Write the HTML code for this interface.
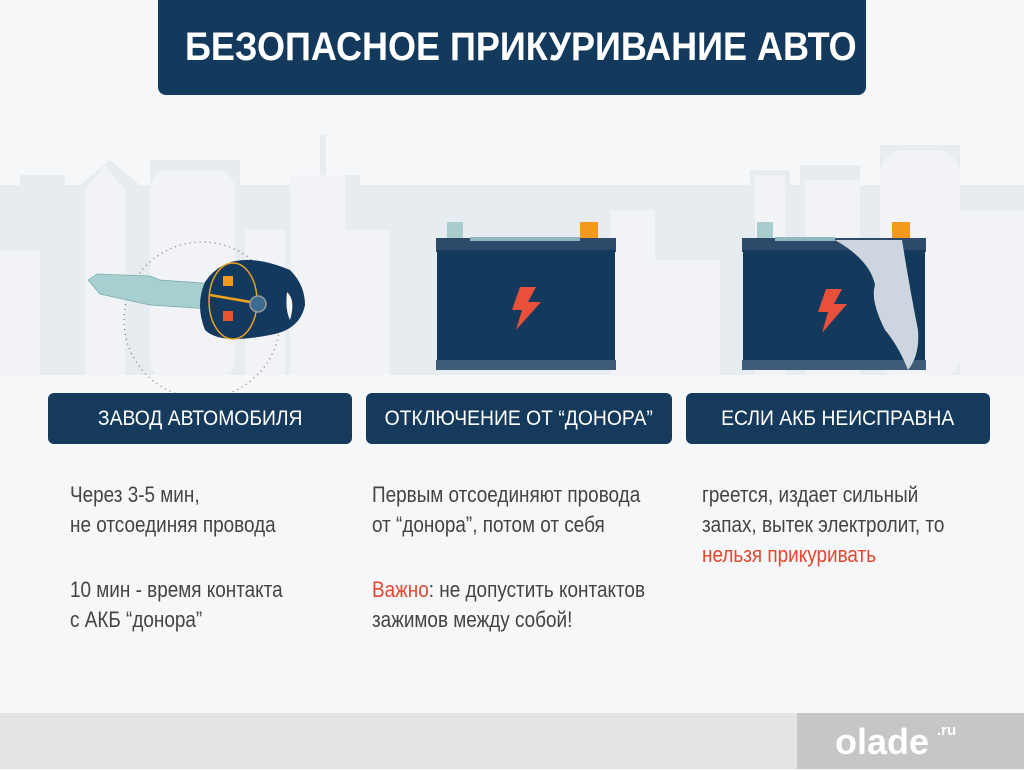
<!DOCTYPE html>
<html><head><meta charset="utf-8">
<style>
body{margin:0;width:1024px;height:769px;overflow:hidden;background:#f6f7f9;position:relative;font-family:"Liberation Sans",sans-serif}
.a{position:absolute}
.n{display:inline-block;transform:scaleX(.86);transform-origin:left top;white-space:nowrap}
.lab{position:absolute;top:393px;height:51px;background:#163a5c;border-radius:6px;color:#fff;font-size:21px;line-height:51px;text-align:center}
.lab span{display:inline-block;transform:scaleX(.92);white-space:nowrap}
.t{position:absolute;color:#444;font-size:22px;line-height:30px}
.red{color:#e5462f}
</style></head><body>
<svg class="a" style="left:0;top:0" width="1024" height="713">
<g fill="#e7ecf1">
<rect x="0" y="185" width="1024" height="195"/>
<rect x="20" y="175" width="45" height="200"/><polygon points="80,185 110,160 140,185"/>
<rect x="150" y="160" width="90" height="220"/><rect x="300" y="175" width="60" height="200"/><rect x="320" y="135" width="6" height="50"/>
<rect x="600" y="185" width="60" height="190"/>
<rect x="750" y="170" width="40" height="200"/><rect x="800" y="165" width="60" height="200"/><rect x="880" y="145" width="80" height="230"/>
</g>
<g fill="#f1f3f6">
<rect x="0" y="250" width="40" height="130"/><polygon points="85,380 85,190 105,165 125,190 125,380"/>
<rect x="150" y="170" width="85" height="210" rx="20"/><rect x="245" y="230" width="40" height="150"/>
<rect x="290" y="175" width="55" height="205"/><rect x="345" y="230" width="45" height="150"/>
<rect x="610" y="210" width="45" height="170"/><rect x="640" y="260" width="80" height="120"/>
<rect x="755" y="175" width="30" height="205"/><rect x="805" y="180" width="55" height="200"/>
<rect x="880" y="150" width="80" height="230" rx="25"/><rect x="960" y="210" width="64" height="170"/>
</g>
<rect x="0" y="375" width="1024" height="340" fill="#f6f7f9"/>
<circle cx="202" cy="320" r="78" fill="none" stroke="#777" stroke-width="1.3" stroke-dasharray="1 4"/>
<polygon points="88,280 97,274 150,276 160,280 230,285 225,310 150,305 118,298 100,294" fill="#a8cfcf" stroke="#7aa" stroke-width=".7"/>
<path d="M205,282 Q230,245 290,270 Q305,285 305,305 Q300,330 270,335 Q220,345 205,330 Q195,305 205,282Z" fill="#133a5e"/>
<ellipse cx="233" cy="301" rx="24" ry="38" fill="none" stroke="#f0a21f" stroke-width="1.5"/>
<line x1="210" y1="295" x2="256" y2="303" stroke="#f0a21f" stroke-width="2.5"/>
<rect x="223" y="276" width="10" height="10" fill="#f29a1f"/><rect x="223" y="311" width="10" height="10" fill="#e5532f"/>
<circle cx="258" cy="304" r="8" fill="#3b6b8f" stroke="#999" stroke-width="1.5"/>
<path d="M287,292 Q296,300 290,320 Q285,310 287,292Z" fill="#f5f5f5"/>
<rect x="447" y="222" width="16" height="16" fill="#a9cdcd"/><rect x="580" y="222" width="18" height="16" fill="#f39a1e"/>
<rect x="436" y="238" width="180" height="14" fill="#2e4a6a"/><rect x="470" y="237" width="110" height="4" fill="#8fb7bf"/>
<rect x="437" y="250" width="178" height="110" fill="#133a5c"/><rect x="436" y="360" width="180" height="10" fill="#3e5b7a"/>
<polygon points="520,287 536,287 528,302 541,302 516,330 522,310 512,310" fill="#e8503a"/>
<rect x="757" y="222" width="16" height="16" fill="#a9cdcd"/><rect x="892" y="222" width="18" height="16" fill="#f39a1e"/>
<rect x="742" y="238" width="184" height="14" fill="#2e4a6a"/><rect x="775" y="237" width="60" height="4" fill="#8fb7bf"/>
<rect x="743" y="250" width="182" height="110" fill="#133a5c"/><rect x="742" y="360" width="184" height="10" fill="#3e5b7a"/>
<polygon points="826,289 842,289 834,304 847,304 822,333 828,312 818,312" fill="#e8503a"/>
<path d="M835,240 L902,240 Q910,290 918,330 Q920,355 908,370 Q898,345 885,330 Q870,300 875,285 Q870,260 835,240Z" fill="#cdd6de"/>
</svg>
<div class="a" style="left:158px;top:0;width:708px;height:95px;background:#133a5c;border-radius:0 0 8px 8px"></div>
<div class="a" style="left:185px;top:0;color:#fff;font-weight:bold;font-size:40px;line-height:95px;white-space:nowrap"><span style="display:inline-block;transform:scaleX(.9);transform-origin:left center">БЕЗОПАСНОЕ ПРИКУРИВАНИЕ АВТО</span></div>
<div class="lab" style="left:48px;width:304px"><span>ЗАВОД АВТОМОБИЛЯ</span></div>
<div class="lab" style="left:366px;width:306px"><span>ОТКЛЮЧЕНИЕ ОТ “ДОНОРА”</span></div>
<div class="lab" style="left:686px;width:304px"><span>ЕСЛИ АКБ НЕИСПРАВНА</span></div>
<div class="t" style="left:70px;top:480px"><span class="n">Через 3-5 мин,<br>не отсоединяя провода</span></div>
<div class="t" style="left:70px;top:575px"><span class="n">10 мин - время контакта<br>с АКБ “донора”</span></div>
<div class="t" style="left:372px;top:480px"><span class="n">Первым отсоединяют провода<br>от “донора”, потом от себя</span></div>
<div class="t" style="left:372px;top:575px"><span class="n"><span class="red">Важно</span>: не допустить контактов<br>зажимов между собой!</span></div>
<div class="t" style="left:702px;top:480px"><span class="n">греется, издает сильный<br>запах, вытек электролит, то<br><span class="red">нельзя прикуривать</span></span></div>
<div class="a" style="left:0;top:713px;width:1024px;height:56px;background:#e3e4e6"></div>
<div class="a" style="left:797px;top:713px;width:227px;height:56px;background:#c6c6c6;color:#fff;font-weight:bold;font-size:36px;line-height:56px"><span style="position:absolute;left:38px;top:1px">olade</span><span style="position:absolute;left:140px;top:-10px;font-size:15px">.ru</span></div>
</body></html>
